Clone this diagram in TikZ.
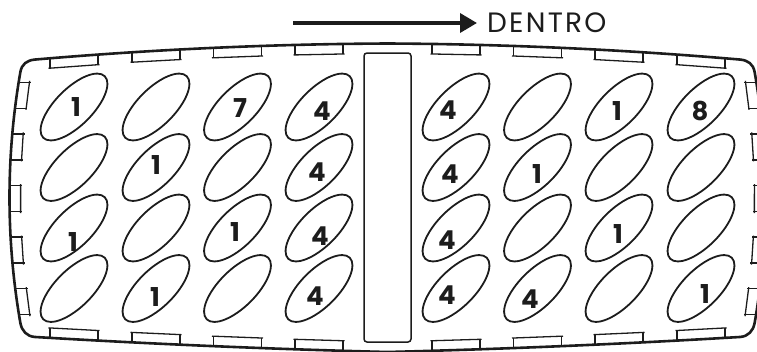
\documentclass[tikz,border=0pt]{standalone}
\usepackage{fontspec}
\setmainfont{Poppins}
\newfontfamily\dentrofont[LetterSpace=8]{Poppins}
\usetikzlibrary{shapes.geometric,arrows.meta}
\definecolor{ink}{HTML}{1C1C1C}
\pgfmathdeclarefunction{ftop}{1}{\pgfmathparse{43.5+1.15*((#1-387.5)/100)*((#1-387.5)/100)+0.5*abs((#1-387.5)/100)}}
\pgfmathdeclarefunction{fbot}{1}{\pgfmathparse{352-2.5*abs((#1-387.5)/100)-0.5*((#1-387.5)/100)*((#1-387.5)/100)}}
\pgfmathdeclarefunction{fleft}{1}{\pgfmathparse{9.5+6.9*((#1-197.5)/100)*((#1-197.5)/100)}}
\tikzset{
  outline/.style={draw=ink, line width=2.6pt, line join=round},
  tab/.style={draw=ink, line width=1.3pt},
  cell/.style={draw=ink, ellipse, minimum width=87pt, minimum height=37pt, inner sep=0pt, rotate=45, line width=1.8pt},
  num/.style={font=\bfseries\fontsize{26}{26}\selectfont, text=ink, inner sep=0pt},
  divider/.style={draw=ink, line width=1.5pt, rounded corners=3pt},
}
\begin{document}
\begin{tikzpicture}[x=1pt,y=-1pt]
\useasboundingbox (0,0) rectangle (757,351);
% tray outline
\draw[outline] plot[domain=35:740,samples=71] (\x,{ftop(\x)})
  .. controls (748,60.25) and (753.2,64) .. (754.63,72)
  -- plot[domain=72:323,samples=41] ({775-fleft(\x)},\x)
  .. controls (753.2,331) and (748,336.5) .. (740,336.98)
  -- plot[domain=740:35,samples=71] (\x,{fbot(\x)})
  .. controls (27,336.5) and (21.8,331) .. (20.37,323)
  -- plot[domain=323:72,samples=41] ({fleft(\x)},\x)
  .. controls (21.8,64) and (27,60.25) .. (35,59.55) -- cycle;
% top and bottom tabs
\foreach \cx in {74,156,237.5,319,456,537.5,619,701}{
  \pgfmathsetmacro{\xl}{\cx-24}
  \pgfmathsetmacro{\xr}{\cx+24}
  \pgfmathsetmacro{\ytl}{ftop(\xl)}
  \pgfmathsetmacro{\ytr}{ftop(\xr)}
  \pgfmathsetmacro{\ybl}{fbot(\xl)}
  \pgfmathsetmacro{\ybr}{fbot(\xr)}
  \draw[tab] (\xl,\ytl) -- (\xl,{\ytl+10});
  \draw[tab] (\xr,\ytr) -- (\xr,{\ytr+10});
  \draw[tab] ({\xl-1.5},{\ytl+10}) -- ({\xr+1.5},{\ytr+10});
  \draw[tab] (\xl,\ybl) -- (\xl,{\ybl-10});
  \draw[tab] (\xr,\ybr) -- (\xr,{\ybr-10});
  \draw[tab] ({\xl-1.5},{\ybl-10}) -- ({\xr+1.5},{\ybr-10});
}
% side tabs
\foreach \k in {-2,...,2}{
  \pgfmathsetmacro{\yt}{198.5+51.6*\k-13}
  \pgfmathsetmacro{\yb}{198.5+51.6*\k+13}
  \pgfmathsetmacro{\xt}{fleft(\yt)}
  \pgfmathsetmacro{\xb}{fleft(\yb)}
  \draw[tab] (\xt,\yt) -- ({\xt+12.5},\yt);
  \draw[tab] (\xb,\yb) -- ({\xb+12.5},\yb);
  \draw[tab] ({\xt+11},{\yt-1.5}) -- ({\xb+11},{\yb+1.5});
  \draw[tab] ({775-\xt},\yt) -- ({775-\xt-12.5},\yt);
  \draw[tab] ({775-\xb},\yb) -- ({775-\xb-12.5},\yb);
  \draw[tab] ({775-\xt-11},{\yt-1.5}) -- ({775-\xb-11},{\yb+1.5});
}
% central divider
\draw[divider] (364,53) rectangle (411,342);
% cells
\foreach \cx [count=\c] in {74,156,237.5,319,456,537.5,619,701}{
  \foreach \cy [count=\r] in {107,167.5,228,288.5}{
    \node[cell] (e\r-\c) at (\cx,\cy) {};
  }
}
% numbers
\node[num] (n11) at (76,107) {1};
\node[num] (n13) at (240,108) {7};
\node[num] (n14) at (322,111) {4};
\node[num] (n15) at (448,110) {4};
\node[num] (n17) at (617,111) {1};
\node[num] (n18) at (700,111) {8};
\node[num] (n22) at (156,165) {1};
\node[num] (n24) at (317,172) {4};
\node[num] (n25) at (450,174) {4};
\node[num] (n26) at (537,174) {1};
\node[num] (n31) at (73,242) {1};
\node[num] (n33) at (235,232) {1};
\node[num] (n34) at (320,236) {4};
\node[num] (n35) at (447,240) {4};
\node[num] (n37) at (618,234) {1};
\node[num] (n42) at (155,297) {1};
\node[num] (n44) at (315,296) {4};
\node[num] (n45) at (447,295) {4};
\node[num] (n46) at (530,299) {4};
\node[num] (n48) at (705,294) {1};
% direction arrow
\coordinate (as) at (293,23);
\coordinate (ae) at (477,23);
\draw[ink, line width=3.6pt, -{Triangle[length=17pt,width=19pt]}] (as) -- (ae);
\node[font=\dentrofont\fontsize{28}{28}\selectfont, text=ink, inner sep=0pt, anchor=west] (dentro) at (487,23) {DENTRO};
\end{tikzpicture}
\end{document}
